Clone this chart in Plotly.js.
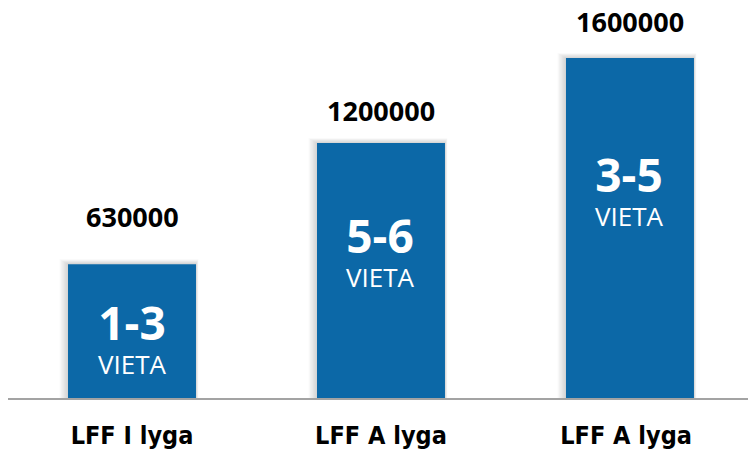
<!DOCTYPE html>
<html>
<head>
<meta charset="utf-8">
<script src="https://cdn.plot.ly/plotly-3.0.1.min.js"></script>
<style>html,body{margin:0;padding:0;background:#fff;}#chart{width:748px;height:450px;}</style>
</head>
<body>
<div id="chart"></div>
<script>
const categories = ["LFF I lyga", "LFF A lyga", "LFF A lyga "];
const values = [630000, 1200000, 1600000];
const valueLabels = ["630000", "1200000", "1600000"];
const bigLabels = ["1-3", "5-6", "3-5"];
const smallLabels = ["VIETA", "VIETA", "VIETA"];

// layout: pixel gap of value label above bar, in-bar label bottom as fraction of bar height
const valueShift = [27, 12, 16];
const innerFrac = [0.105, 0.396, 0.476];

const blue = "#0c68a7";
const xs = categories.map((c, i) => i);
const barW = 0.514;
const yMax = 1873000;
const pxX = 2.972 / 740;      // data units per pixel (x)
const pxY = yMax / 398;       // data units per pixel (y)

const traces = [];
// soft shadow layers behind the bars
for (let k = 6; k >= 1; k--) {
  const left = 1.4 * k, right = 0.4 * k, top = 0.8 * k;
  traces.push({
    type: "bar", x: xs,
    y: values.map(v => v + top * pxY),
    width: barW + (left + right) * pxX,
    offset: -barW / 2 - left * pxX,
    marker: {color: "rgba(0,0,0,0.028)", line: {width: 0}},
    hoverinfo: "none"
  });
}
traces.push({
  type: "bar",
  x: xs,
  y: values,
  width: barW,
  offset: -barW / 2,
  marker: {color: blue, line: {width: 0}},
  hoverinfo: "none"
});

const annotations = [];
values.forEach((v, i) => {
  annotations.push({
    x: i, y: v, xref: "x", yref: "y", text: valueLabels[i], showarrow: false,
    yanchor: "bottom", yshift: valueShift[i],
    font: {family: "Open Sans", size: 27, color: "#000", weight: 700}
  });
  annotations.push({
    x: i, y: v * innerFrac[i], xref: "x", yref: "y",
    text: "<span style='font-size:46px;font-weight:bold'>" + bigLabels[i] + "</span><br>" + smallLabels[i],
    showarrow: false, yanchor: "bottom", align: "center",
    font: {family: "Open Sans", size: 26, color: "#fff"}
  });
});

const layout = {
  width: 748, height: 450,
  margin: {l: 8, r: 0, t: 0, b: 52, pad: 0},
  paper_bgcolor: "#fff", plot_bgcolor: "#fff",
  showlegend: false,
  barmode: "overlay",
  xaxis: {
    range: [-0.498, 2.474],
    tickmode: "array", tickvals: xs, ticktext: categories,
    showgrid: false, zeroline: false,
    showline: true, linecolor: "#a3a3a3", linewidth: 2,
    ticks: "", ticklabelstandoff: 14,
    tickfont: {family: "Liberation Sans Narrow, DejaVu Sans Condensed, sans-serif", size: 25, color: "#000", weight: 700},
    fixedrange: true
  },
  yaxis: {
    range: [0, yMax],
    visible: false, showgrid: false, zeroline: false, fixedrange: true
  },
  annotations: annotations
};

Plotly.newPlot("chart", traces, layout, {displayModeBar: false, staticPlot: true});
</script>
</body>
</html>
